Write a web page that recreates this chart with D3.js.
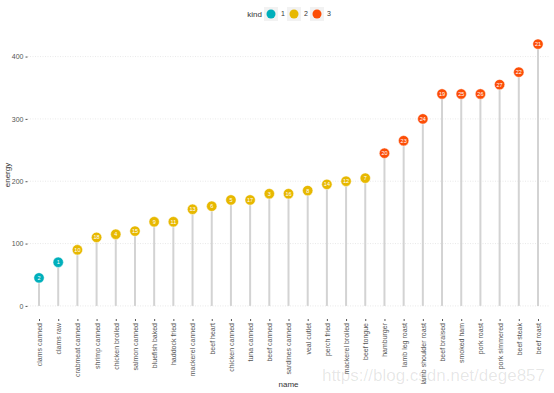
<!DOCTYPE html>
<html>
<head>
<meta charset="utf-8">
<script src="https://cdn.jsdelivr.net/npm/d3@7"></script>
<style>
  body { margin: 0; background: #fff; }
  svg { font-family: "Liberation Sans", Arial, sans-serif; }
</style>
</head>
<body>
<svg class="chart" width="554" height="393"></svg>
<script>
// data, already ordered by energy
var names = ['clams canned', 'clams raw', 'crabmeat canned', 'shrimp canned', 'chicken broiled',
  'salmon canned', 'bluefish baked', 'haddock fried', 'mackerel canned', 'beef heart',
  'chicken canned', 'tuna canned', 'beef canned', 'sardines canned', 'veal cutlet',
  'perch fried', 'mackerel broiled', 'beef tongue', 'hamburger', 'lamb leg roast',
  'lamb shoulder roast', 'beef braised', 'smoked ham', 'pork roast', 'pork simmered',
  'beef steak', 'beef roast'];
var energy = [45, 70, 90, 110, 115, 120, 135, 135, 155, 160, 170, 170, 180, 180, 185,
  195, 200, 205, 245, 265, 300, 340, 340, 340, 355, 375, 420];
var kind = [1, 1, 2, 2, 2, 2, 2, 2, 2, 2, 2, 2, 2, 2, 2, 2, 2, 2, 3, 3, 3, 3, 3, 3, 3, 3, 3];
var ids = [2, 1, 10, 18, 4, 15, 9, 11, 13, 6, 5, 17, 3, 16, 8, 14, 12, 7, 20, 23, 24, 19,
  25, 26, 27, 22, 21];
var kinds = [1, 2, 3];
var colors = ['#00AFBB', '#E7B800', '#FC4E07'];
var yTicks = [0, 100, 200, 300, 400];

var rows = names.map(function(n, i) {
  return {name: n, energy: energy[i], kind: kind[i], id: ids[i]};
});

var svg = d3.select('.chart');

var x = d3.scalePoint().domain(names).range([27.5, 549.5]).padding(0.6);
var y = d3.scaleLinear().domain([-21, 441]).range([319, 31]);
var color = d3.scaleOrdinal().domain(kinds).range(colors);

// grid
svg.append('g')
  .selectAll('line')
  .data(yTicks)
  .enter().append('line')
  .attr('x1', 27.5).attr('x2', 549.5)
  .attr('y1', function(d) { return y(d); })
  .attr('y2', function(d) { return y(d); })
  .attr('stroke', '#e3e3e3')
  .attr('stroke-width', 0.8)
  .attr('stroke-dasharray', '1,1.5');

// y axis
var yAxis = svg.append('g')
  .attr('transform', 'translate(' + [27.5, 0] + ')')
  .call(d3.axisLeft(y).tickValues(yTicks).tickSize(2).tickPadding(2));
yAxis.select('.domain').remove();
yAxis.selectAll('line').attr('stroke', '#555');
yAxis.selectAll('text').attr('fill', '#555').style('font-size', '7px');

// x axis
var xAxis = svg.append('g')
  .attr('transform', 'translate(' + [0, 319] + ')')
  .call(d3.axisBottom(x).tickSize(2).tickPadding(2));
xAxis.select('.domain').remove();
xAxis.selectAll('line').attr('stroke', '#555');
xAxis.selectAll('text')
  .attr('fill', '#555')
  .style('font-size', '7px')
  .attr('text-anchor', 'end')
  .attr('transform', 'rotate(-90)')
  .attr('x', -4)
  .attr('y', 0)
  .attr('dy', '0.35em');

// axis titles
svg.append('text')
  .text('name')
  .attr('x', 288.5).attr('y', 387)
  .attr('text-anchor', 'middle')
  .attr('fill', '#333')
  .style('font-size', '8px');

svg.append('text')
  .text('energy')
  .attr('transform', 'translate(' + [10, 175] + ') rotate(-90)')
  .attr('text-anchor', 'middle')
  .attr('fill', '#333')
  .style('font-size', '8px');

// stems
svg.append('g')
  .selectAll('line')
  .data(rows)
  .enter().append('line')
  .attr('x1', function(d) { return x(d.name); })
  .attr('x2', function(d) { return x(d.name); })
  .attr('y1', y(0))
  .attr('y2', function(d) { return y(d.energy); })
  .attr('stroke', '#d3d3d3')
  .attr('stroke-width', 2);

// dots
var dots = svg.append('g')
  .selectAll('g')
  .data(rows)
  .enter().append('g')
  .attr('transform', function(d) { return 'translate(' + [x(d.name), y(d.energy)] + ')'; });

dots.append('circle')
  .attr('r', 5.2)
  .attr('fill', function(d) { return color(d.kind); })
  .attr('stroke', '#fff')
  .attr('stroke-width', 0.5);

dots.append('text')
  .text(function(d) { return d.id; })
  .attr('text-anchor', 'middle')
  .attr('dy', '0.35em')
  .attr('fill', '#fff')
  .style('font-size', '5.5px');

// legend
var legend = svg.append('g');
legend.append('text')
  .text('kind')
  .attr('x', 262).attr('y', 14)
  .attr('dy', '0.35em')
  .attr('text-anchor', 'end')
  .attr('fill', '#333')
  .style('font-size', '8px');

var keys = legend.selectAll('g.key')
  .data(kinds)
  .enter().append('g')
  .attr('class', 'key')
  .attr('transform', function(d, i) { return 'translate(' + [271 + i * 23, 14] + ')'; });

keys.append('rect')
  .attr('x', -7).attr('y', -7)
  .attr('width', 14).attr('height', 14)
  .attr('fill', '#f2f2f2');

keys.append('circle')
  .attr('r', 4.5)
  .attr('fill', function(d) { return color(d); });

keys.append('text')
  .text(function(d) { return d; })
  .attr('x', 10).attr('dy', '0.35em')
  .attr('fill', '#333')
  .style('font-size', '7px');

// watermark
svg.append('text')
  .text('https://blog.csdn.net/dege857')
  .attr('x', 545).attr('y', 381)
  .attr('text-anchor', 'end')
  .attr('fill', '#000')
  .attr('fill-opacity', 0.1)
  .style('font-size', '17px');
</script>
</body>
</html>
